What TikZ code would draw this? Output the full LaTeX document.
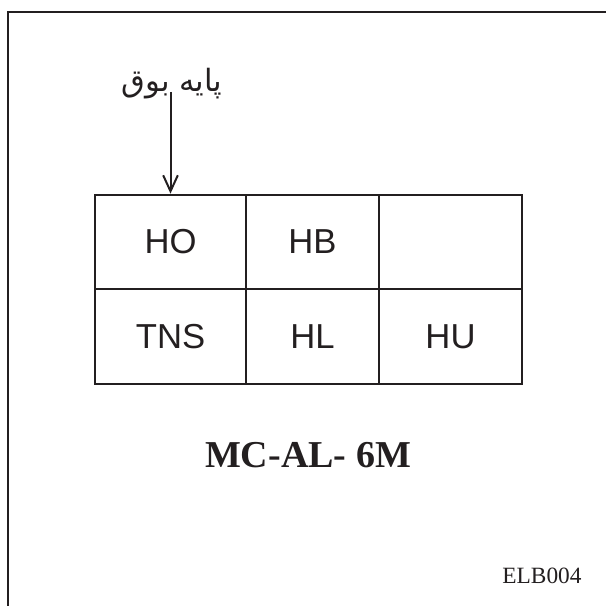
\documentclass[tikz,border=0pt]{standalone}
\usepackage{fontspec}
\setmainfont{Liberation Serif}
\newfontfamily\cellfont{Liberation Sans}
\newfontfamily\persianfont[Script=Arabic]{DejaVu Sans}
\TeXXeTstate=1
\usetikzlibrary{arrows.meta}
\definecolor{ink}{HTML}{231F20}
\tikzset{
  cell/.style={draw=ink, line width=1.5pt, inner sep=0pt, minimum height=71pt,
    font=\cellfont\fontsize{26}{30}\selectfont, text=ink},
}
\begin{document}
\begin{tikzpicture}[x=0.75pt, y=-0.75pt]
    \useasboundingbox (0,0) rectangle (606,606);

    % frame
    \draw[ink, line width=2pt] (8,606) -- (8,12) -- (606,12);

    % connector table
    \node[cell, minimum width=113.25pt] (ho) at (170.5,242) {HO};
    \node[cell, minimum width=99.75pt] (hb) at (312.5,242) {HB};
    \node[cell, minimum width=107.25pt] (blank) at (450.5,242) {};
    \node[cell, minimum width=113.25pt] (tns) at (170.5,336.5) {TNS};
    \node[cell, minimum width=99.75pt] (hl) at (312.5,336.5) {HL};
    \node[cell, minimum width=107.25pt] (hu) at (450.5,336.5) {HU};

    % horn pin
    \node[anchor=base, inner sep=0pt, text=ink,
      font=\persianfont\fontsize{23}{27}\selectfont] (horn) at (172,92)
      {\beginR پایه بوق\endR};
    \draw[ink, line width=1.5pt, -{Straight Barb[length=12pt, width=11pt]}]
      (horn.base -| ho.north) -- (ho.north);

    \node[anchor=base, inner sep=0pt, text=ink,
      font=\bfseries\fontsize{28.5}{34}\selectfont] (model) at (308,467) {MC-AL- 6M};
    \node[anchor=base, inner sep=0pt, text=ink,
      font=\fontsize{17.5}{21}\selectfont] (code) at (542,583) {ELB004};
\end{tikzpicture}
\end{document}
